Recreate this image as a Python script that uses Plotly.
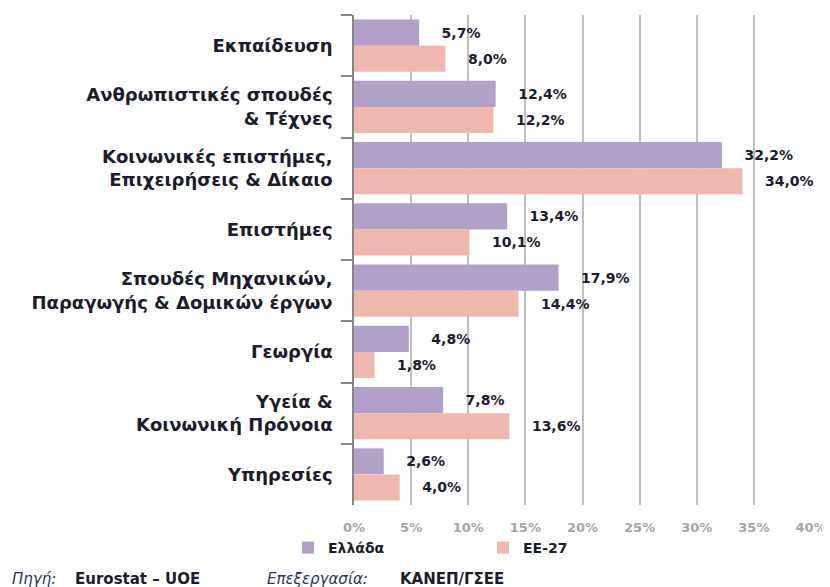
import plotly.graph_objects as go

categories = [
    "Εκπαίδευση",
    "Ανθρωπιστικές σπουδές<br>& Τέχνες",
    "Κοινωνικές επιστήμες,<br>Επιχειρήσεις & Δίκαιο",
    "Επιστήμες",
    "Σπουδές Μηχανικών,<br>Παραγωγής & Δομικών έργων",
    "Γεωργία",
    "Υγεία &<br>Κοινωνική Πρόνοια",
    "Υπηρεσίες",
]
greece = [5.7, 12.4, 32.2, 13.4, 17.9, 4.8, 7.8, 2.6]
eu27 = [8.0, 12.2, 34.0, 10.1, 14.4, 1.8, 13.6, 4.0]
series_names = ["Ελλάδα", "ΕΕ-27"]
tick_vals = [0, 5, 10, 15, 20, 25, 30, 35, 40]
tick_text = [f"{v}%" for v in tick_vals]
footer_parts = [("Πηγή:", "i", 10), ("Eurostat – UOE", "b", 73),
                ("Επεξεργασία:", "i", 265), ("ΚΑΝΕΠ/ΓΣΕΕ", "b", 398)]

colors = ["#b1a0c7", "#efb8ae"]
PAD = "\u00a0" * 4


def fmt(v):
    return PAD + f"{v:.1f}".replace(".", ",") + "%"


fig = go.Figure()
for name, vals, col in zip(series_names, [greece, eu27], colors):
    fig.add_trace(go.Bar(
        y=categories, x=vals, name=name, orientation="h",
        marker=dict(color=col, line=dict(width=0)),
        text=[fmt(v) for v in vals], textposition="outside",
        textfont=dict(family="DejaVu Sans", size=14, color="#1c1c30", weight="bold"),
        cliponaxis=False, constraintext="none",
    ))

# page body has an 8px margin: lay out in image pixels, figure shifted by 8
OFF = 8
W, H = 830 - OFF, 587 - OFF
PL, PT, PR, PB = 354, 15, 811, 505  # plot area in image pixels
L, T = PL - OFF, PT - OFF
pw, ph = PR - PL, PB - PT
R = W - L - pw
B = H - T - ph


def px(x):
    return (x - PL) / pw


def py(y):
    return (PB - y) / ph


fig.update_layout(
    width=W, height=H,
    margin=dict(l=L, r=R, t=T, b=B, autoexpand=False),
    paper_bgcolor="white", plot_bgcolor="white",
    barmode="group", bargap=0.15, bargroupgap=0,
    font=dict(family="DejaVu Sans", color="#1c1c2c"),
    showlegend=True,
    legend=dict(orientation="h", x=px(288), xanchor="left", y=py(548), yanchor="middle",
                traceorder="normal", entrywidth=150, entrywidthmode="pixels",
                font=dict(family="DejaVu Sans", size=14, color="#1c1c2c", weight="bold")),
    xaxis=dict(range=[0, 40], tickvals=tick_vals, ticktext=tick_text,
               showgrid=True, gridcolor="#bfbfbf", gridwidth=1.5, zeroline=False,
               showline=False, ticks="", ticklabelstandoff=13,
               tickfont=dict(family="DejaVu Sans", size=13, color="#a6a6a6", weight="bold"),
               fixedrange=True),
    yaxis=dict(autorange="reversed", showline=True, linecolor="#868686", linewidth=1.5,
               ticks="outside", ticklen=11, tickcolor="#868686", tickwidth=1.5,
               tickson="boundaries", showgrid=False, ticklabelstandoff=16,
               tickfont=dict(family="DejaVu Sans", size=18, color="#1c1c2c", weight="bold")),
)

for txt, style, xpos in footer_parts:
    fig.add_annotation(xref="paper", yref="paper", x=px(xpos), y=py(579),
                       xanchor="left", yanchor="middle", showarrow=False,
                       text=f"<{style}>{txt}</{style}>",
                       font=dict(family="DejaVu Sans", size=15,
                                 color="#2a3560" if style == "i" else "#1c1c2c"))

fig.write_html("out.html")
